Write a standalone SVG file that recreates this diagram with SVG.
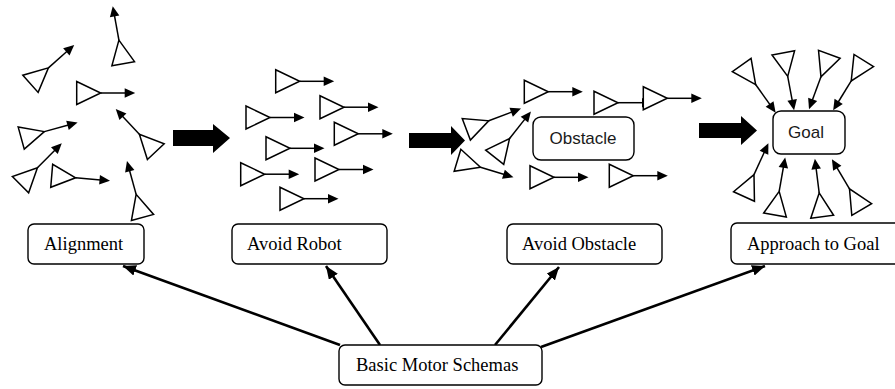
<svg xmlns="http://www.w3.org/2000/svg" xmlns:xlink="http://www.w3.org/1999/xlink" width="895" height="389" viewBox="0 0 895 389">
  <style>
    .box { fill: #ffffff; stroke: #000000; stroke-width: 1.4; }
    .lbl { font-family: "Liberation Serif", "Times New Roman", serif; font-size: 18.5px; fill: #000000; }
    .sans { font-family: "Liberation Sans", Arial, sans-serif; font-size: 17px; fill: #1a1a1a; }
    .conn { stroke: #000000; stroke-width: 2.6; fill: none; marker-end: url(#head); }
    .bigarrow { fill: #000000; }
  </style>
  <defs>
    <marker id="head" viewBox="0 0 12 10" refX="12" refY="5" markerWidth="13" markerHeight="11" markerUnits="userSpaceOnUse" orient="auto">
      <path d="M0,0 L12,5 L0,10 z" fill="#000000"/>
    </marker>
    <!-- one robot: triangle body pointing along +x with a heading arrow -->
    <g id="robot">
      <polygon points="0,-11.5 0,11.5 24,0" fill="#ffffff" stroke="#000000" stroke-width="1.5"/>
      <line x1="24" y1="0" x2="49" y2="0" stroke="#000000" stroke-width="1.5"/>
      <polygon points="48,-4.8 58.5,0 48,4.8" fill="#000000"/>
    </g>
  </defs>

  <!-- Alignment swarm -->
  <g id="swarm-alignment">
    <use xlink:href="#robot" transform="translate(123.2,63.7) rotate(-100.3)"/>
    <use xlink:href="#robot" transform="translate(30.5,83.8) rotate(-41.7)"/>
    <use xlink:href="#robot" transform="translate(76.7,93) rotate(0)"/>
    <use xlink:href="#robot" transform="translate(21.2,138) rotate(-15.4)"/>
    <use xlink:href="#robot" transform="translate(155.8,151.7) rotate(-133.2)"/>
    <use xlink:href="#robot" transform="translate(20.5,184.7) rotate(-45.1)"/>
    <use xlink:href="#robot" transform="translate(51.7,175.8) rotate(4.8)"/>
    <use xlink:href="#robot" transform="translate(142.5,217.5) rotate(-105.4)"/>
  </g>

  <!-- Avoid robot swarm -->
  <g id="swarm-avoid-robot">
    <use xlink:href="#robot" transform="translate(275.7,81.3)"/>
    <use xlink:href="#robot" transform="translate(320,107.2)"/>
    <use xlink:href="#robot" transform="translate(246,117.5)"/>
    <use xlink:href="#robot" transform="translate(334.3,133.8)"/>
    <use xlink:href="#robot" transform="translate(266,148.3)"/>
    <use xlink:href="#robot" transform="translate(240.7,174.2)"/>
    <use xlink:href="#robot" transform="translate(315,169.5)"/>
    <use xlink:href="#robot" transform="translate(280,198.7)"/>
  </g>

  <!-- Avoid obstacle swarm -->
  <g id="swarm-avoid-obstacle">
    <use xlink:href="#robot" transform="translate(524.3,91.7)"/>
    <use xlink:href="#robot" transform="translate(594,102.7)"/>
    <use xlink:href="#robot" transform="translate(643.3,98.3)"/>
    <use xlink:href="#robot" transform="translate(466.3,129.3) rotate(-20.8)"/>
    <use xlink:href="#robot" transform="translate(494.7,157.3) rotate(-51.7)"/>
    <use xlink:href="#robot" transform="translate(457.5,160.3) rotate(16.9)"/>
    <use xlink:href="#robot" transform="translate(530,177.3)"/>
    <use xlink:href="#robot" transform="translate(609.3,175.7)"/>
  </g>

  <!-- Approach to goal swarm -->
  <g id="swarm-goal">
    <use xlink:href="#robot" transform="translate(741.7,65) rotate(54.5)"/>
    <use xlink:href="#robot" transform="translate(783.3,52.8) rotate(79.4)"/>
    <use xlink:href="#robot" transform="translate(829.3,54.3) rotate(110.3)"/>
    <use xlink:href="#robot" transform="translate(863.8,60.5) rotate(121.6)"/>
    <use xlink:href="#robot" transform="translate(744,196.5) rotate(-65.4)"/>
    <use xlink:href="#robot" transform="translate(775,215) rotate(-80)"/>
    <use xlink:href="#robot" transform="translate(822.2,216.7) rotate(-97.2)"/>
    <use xlink:href="#robot" transform="translate(861.7,209.5) rotate(-120.6)"/>
  </g>

  <!-- stage arrows -->
  <g id="stage-arrows">
    <polygon class="bigarrow" points="173,130 213,130 213,124 230,138 213,153 213,146 173,146"/>
    <polygon class="bigarrow" points="409,133 451,133 451,126 465,140.5 451,155 451,148 409,148"/>
    <polygon class="bigarrow" points="699,123 741,123 741,116 757,130.5 741,145 741,138 699,138"/>
  </g>

  <g id="obstacle">
    <rect class="box" x="533" y="117" width="101" height="43" rx="8"/>
    <text class="sans" x="583" y="144" text-anchor="middle">Obstacle</text>
  </g>

  <g id="goal">
    <rect class="box" x="773" y="111" width="72" height="43" rx="8"/>
    <text class="sans" x="806" y="138" text-anchor="middle">Goal</text>
  </g>

  <!-- connectors -->
  <g id="connectors">
    <line class="conn" x1="340" y1="345" x2="123" y2="266"/>
    <line class="conn" x1="380" y1="345" x2="326" y2="266"/>
    <line class="conn" x1="495" y1="345" x2="559" y2="267"/>
    <line class="conn" x1="541" y1="347" x2="765" y2="266"/>
  </g>

  <g id="alignment">
    <rect class="box" x="28" y="224" width="116" height="40" rx="6"/>
    <text class="lbl" x="44" y="250">Alignment</text>
  </g>

  <g id="avoid-robot">
    <rect class="box" x="232" y="224" width="155" height="40" rx="6"/>
    <text class="lbl" x="247" y="250">Avoid Robot</text>
  </g>

  <g id="avoid-obstacle">
    <rect class="box" x="507" y="224" width="155" height="40" rx="6"/>
    <text class="lbl" x="522" y="250">Avoid Obstacle</text>
  </g>

  <g id="approach-to-goal">
    <rect class="box" x="731" y="223" width="175" height="41" rx="6"/>
    <text class="lbl" x="747" y="250">Approach to Goal</text>
  </g>

  <g id="basic-motor-schemas">
    <rect class="box" x="339" y="345" width="203" height="40" rx="6"/>
    <text class="lbl" x="356" y="371">Basic Motor Schemas</text>
  </g>
</svg>
